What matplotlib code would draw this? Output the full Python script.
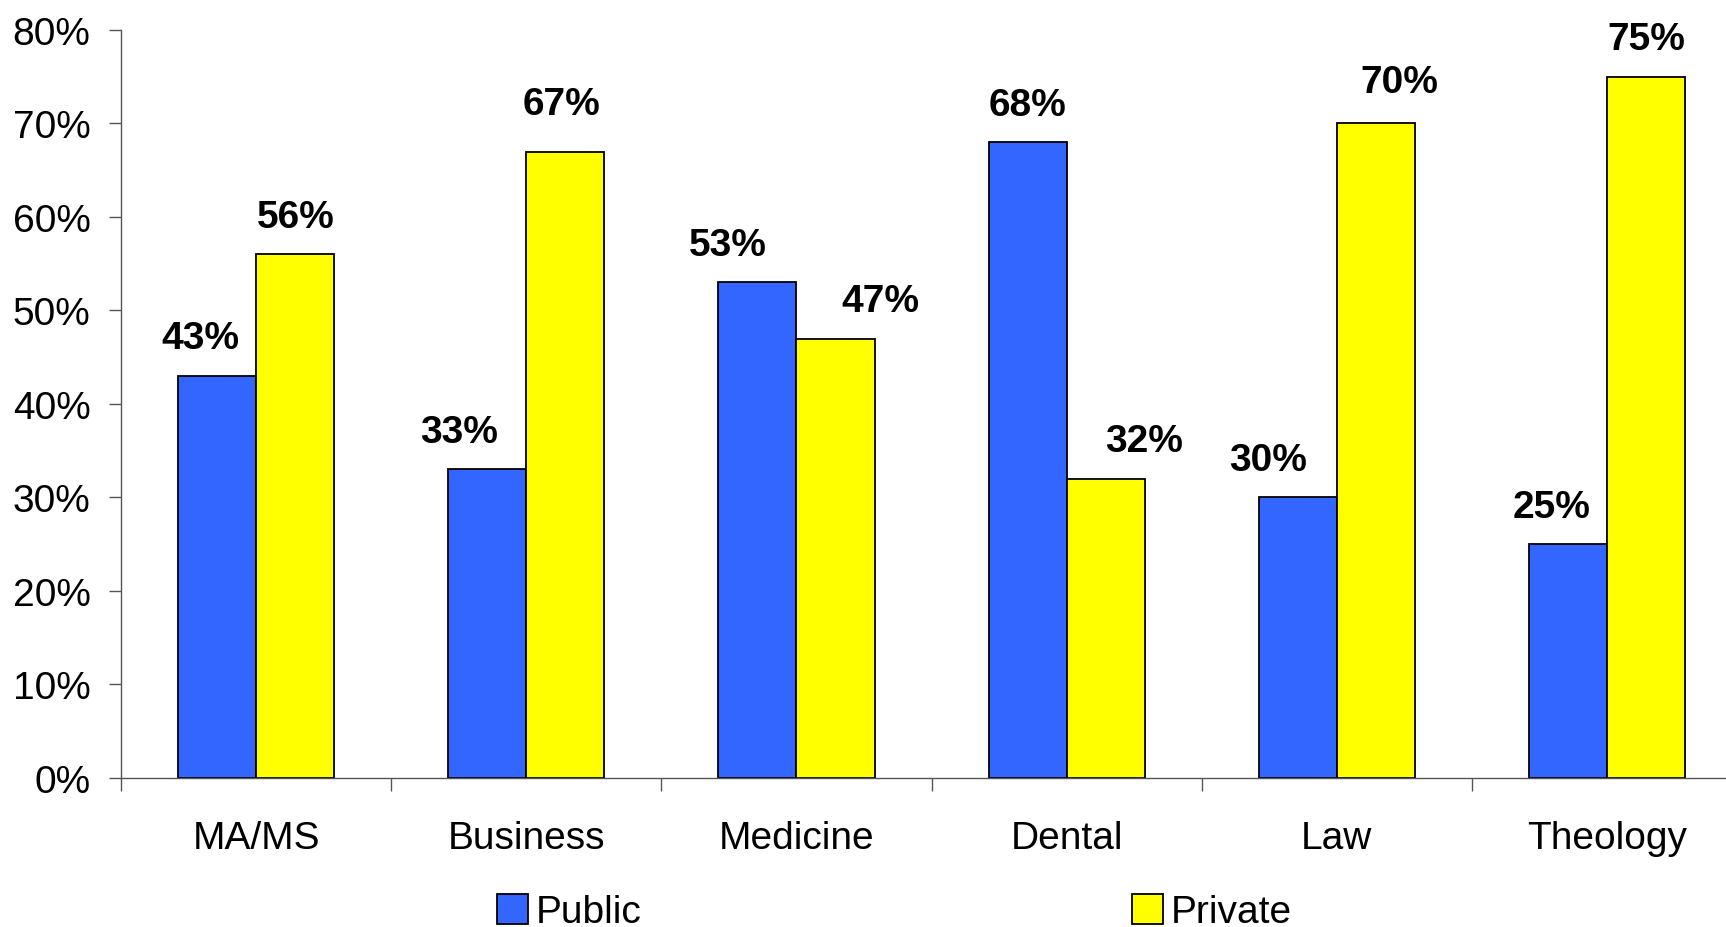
import numpy as np
import matplotlib.pyplot as plt
from matplotlib.ticker import FixedLocator, PercentFormatter

plt.rcParams['font.family'] = ['Liberation Sans', 'DejaVu Sans']

categories = ['MA/MS', 'Business', 'Medicine', 'Dental', 'Law', 'Theology']
public = [43, 33, 53, 68, 30, 25]
private = [56, 67, 47, 32, 70, 75]

# label nudges (points) so the value text sits the way the original layout had it
pub_dx = [-12, -20, -21, 0, -21, -12]
prv_dx = [0, -3, 32, 28, 17, 0]
pub_dy = [0, 0, 0, 0, 0, 0]
prv_dy = [0, 7, 0, 0, 3, 0]

fig = plt.figure(figsize=(17.26, 9.28), dpi=100)
ax = fig.add_axes([0.0702, 0.1606, 0.939, 0.806])

x = np.arange(len(categories))
w = 0.289
b1 = ax.bar(x - w / 2, public, w, color='#3366FF', edgecolor='black', linewidth=1.3, label='Public')
b2 = ax.bar(x + w / 2, private, w, color='#FFFF00', edgecolor='black', linewidth=1.3, label='Private')

for bars, vals, dxs, dys in [(b1, public, pub_dx, pub_dy), (b2, private, prv_dx, prv_dy)]:
    for r, v, dx, dy in zip(bars, vals, dxs, dys):
        ax.annotate(f'{v}%', (r.get_x() + r.get_width() / 2, v),
                    xytext=(dx, 14 + dy), textcoords='offset points',
                    ha='center', va='bottom', fontsize=28, fontweight='bold')

ax.set_xlim(-0.5, len(categories) - 0.5)
ax.set_ylim(0, 80)
ax.set_yticks(np.arange(0, 81, 10))
ax.yaxis.set_major_formatter(PercentFormatter(decimals=0))
ax.set_xticks(x)
ax.set_xticklabels(categories)
ax.xaxis.set_minor_locator(FixedLocator(np.arange(len(categories) + 1) - 0.5))

ax.tick_params(axis='y', labelsize=28, length=9, width=1, color='#555555', pad=13)
ax.tick_params(axis='x', which='major', labelsize=28, length=0, pad=30)
ax.tick_params(axis='x', which='minor', length=9, width=1, color='#555555')

for s in ['top', 'right']:
    ax.spines[s].set_visible(False)
for s in ['left', 'bottom']:
    ax.spines[s].set_color('#555555')
    ax.spines[s].set_linewidth(1)

fig.legend(loc='center left', bbox_to_anchor=(0.288, 0.016), ncol=2, frameon=False,
           fontsize=28, handlelength=0.8, handleheight=0.8, handletextpad=0.2,
           columnspacing=12.6, borderpad=0, borderaxespad=0)

fig.savefig('out.png', dpi=100)
